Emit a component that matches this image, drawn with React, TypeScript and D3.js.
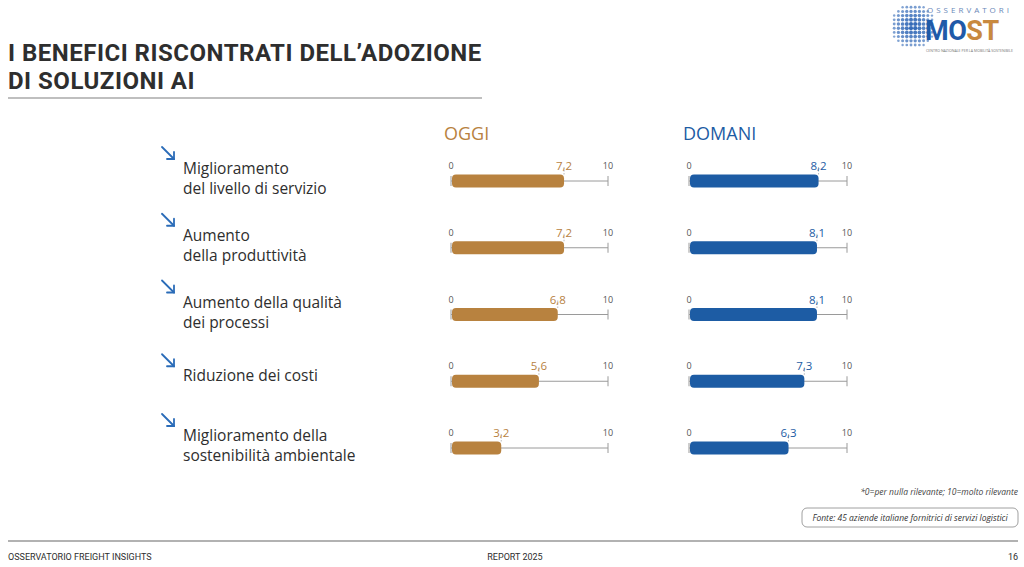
import React from "react";
import * as d3 from "d3";

const categories: string[][] = [
  ["Miglioramento", "del livello di servizio"],
  ["Aumento", "della produttività"],
  ["Aumento della qualità", "dei processi"],
  ["Riduzione dei costi"],
  ["Miglioramento della", "sostenibilità ambientale"],
];
const oggiValues = [7.2, 7.2, 6.8, 5.6, 3.2];
const domaniValues = [8.2, 8.1, 8.1, 7.3, 6.3];
const seriesNames = ["OGGI", "DOMANI"];
const axisTicks = [0, 10];

const W = 1024;
const H = 567;
const BROWN = "#b8823f";
const BLUE = "#1d5ca4";
const TEXT = "#2e2e2e";
const FONT = "'Open Sans', 'Noto Sans', sans-serif";

const fmt = (v: number) => v.toFixed(1).replace(".", ",");

function Logo() {
  const cx = 913, cy = 26, R = 23;
  const dots: { x: number; y: number; r: number; o: number }[] = [];
  for (let gy = -R; gy <= R; gy += 4.2) {
    for (let gx = -R; gx <= R; gx += 4.2) {
      const d = Math.sqrt(gx * gx + gy * gy);
      if (d <= R) {
        const k = 1 - d / R;
        dots.push({ x: cx + gx, y: cy + gy, r: 0.9 + 1.3 * Math.sqrt(k), o: 0.55 + 0.45 * k });
      }
    }
  }
  return (
    <g>
      {dots.map((d, i) => (
        <circle key={i} cx={d.x} cy={d.y} r={d.r} fill="#2a63b4" opacity={d.o} />
      ))}
      <text x={927} y={13} fontSize={8} fill="#6a88b8" letterSpacing={3} fontFamily={FONT}>
        OSSERVATORI
      </text>
      <text x={925} y={40} fontSize={27} fontWeight={700} fontFamily="'Roboto', sans-serif" letterSpacing={-0.5}>
        <tspan fill="#1f5aa8">MO</tspan>
        <tspan fill="#c8893f">ST</tspan>
      </text>
      <text x={926} y={52} fontSize={3.6} fill="#777" fontFamily={FONT}>
        CENTRO NAZIONALE PER LA MOBILITÀ SOSTENIBILE
      </text>
    </g>
  );
}

function BarRow({
  value,
  y,
  x,
  color,
}: {
  value: number;
  y: number;
  x: d3.ScaleLinear<number, number>;
  color: string;
}) {
  const [x0, x1] = x.range();
  const bh = 13;
  return (
    <g>
      <line x1={x0} x2={x1} y1={y} y2={y} stroke="#9a9a9a" strokeWidth={1} />
      <line x1={x0} x2={x0} y1={y - 5} y2={y + 5} stroke="#9a9a9a" strokeWidth={1} />
      <line x1={x1} x2={x1} y1={y - 5} y2={y + 5} stroke="#9a9a9a" strokeWidth={1} />
      <rect x={x(0) + 1} y={y - bh / 2} width={x(value) - x(0) - 1} height={bh} rx={4} fill={color} />
      <line
        x1={x(value)}
        x2={x(value)}
        y1={y - 14}
        y2={y - bh / 2}
        stroke="#aaa"
        strokeWidth={0.8}
        strokeDasharray="1.5,1.5"
      />
      {axisTicks.map((t) => (
        <text key={t} x={x(t)} y={y - 12} fontSize={9} fill="#555" textAnchor="middle" fontFamily={FONT}>
          {t}
        </text>
      ))}
      <text x={x(value)} y={y - 11} fontSize={11.5} fill={color} textAnchor="middle" fontFamily={FONT}>
        {fmt(value)}
      </text>
    </g>
  );
}

export default function App() {
  const yRow = d3.scalePoint<number>().domain(d3.range(categories.length)).range([181, 448]);
  const xOggi = d3.scaleLinear().domain([0, 10]).range([451, 608]);
  const xDomani = d3.scaleLinear().domain([0, 10]).range([689, 847]);

  return (
    <svg width={W} height={H} style={{ position: "absolute", left: 0, top: 0, background: "#fff" }}>
      <rect width={W} height={H} fill="#fff" />
      <Logo />
      <text x={8} y={61} fontSize={24} fontWeight={700} fill={TEXT} letterSpacing={0.5} fontFamily="'Roboto', sans-serif">
        I BENEFICI RISCONTRATI DELL’ADOZIONE
      </text>
      <text x={8} y={89} fontSize={24} fontWeight={700} fill={TEXT} letterSpacing={0.5} fontFamily="'Roboto', sans-serif">
        DI SOLUZIONI AI
      </text>
      <line x1={8} x2={482} y1={98} y2={98} stroke="#aaa" strokeWidth={1.5} />

      <text x={444} y={140} fontSize={18} fill={BROWN} fontFamily={FONT}>
        {seriesNames[0]}
      </text>
      <text x={683} y={140} fontSize={18} fill={BLUE} fontFamily={FONT}>
        {seriesNames[1]}
      </text>

      {categories.map((lines, i) => {
        const y = yRow(i) as number;
        const base = lines.length > 1 ? y - 7 : y;
        const ay = base - 27;
        return (
          <g key={i}>
            <g stroke="#2b6cb8" strokeWidth={1.8} fill="none" strokeLinecap="round">
              <line x1={162} y1={ay} x2={174} y2={ay + 12} />
              <polyline points={`${167},${ay + 12} ${174},${ay + 12} ${174},${ay + 5}`} />
            </g>
            {lines.map((l, j) => (
              <text key={j} x={183} y={base + j * 20} fontSize={15.5} fill={TEXT} fontFamily={FONT}>
                {l}
              </text>
            ))}
            <BarRow value={oggiValues[i]} y={y} x={xOggi} color={BROWN} />
            <BarRow value={domaniValues[i]} y={y} x={xDomani} color={BLUE} />
          </g>
        );
      })}

      <text x={1018} y={495} fontSize={8.5} fontStyle="italic" fill="#444" textAnchor="end" fontFamily={FONT}>
        *0=per nulla rilevante; 10=molto rilevante
      </text>
      <rect x={802} y={508} width={216} height={19} rx={5} fill="none" stroke="#888" strokeWidth={0.8} />
      <text x={910} y={521} fontSize={8.5} fontStyle="italic" fill="#333" textAnchor="middle" fontFamily={FONT}>
        Fonte: 45 aziende italiane fornitrici di servizi logistici
      </text>

      <line x1={8} x2={1018} y1={541} y2={541} stroke="#999" strokeWidth={1.5} />
      <text x={8} y={560} fontSize={9} fill={TEXT} fontFamily="'Roboto', sans-serif">
        OSSERVATORIO FREIGHT INSIGHTS
      </text>
      <text x={515} y={560} fontSize={9} fill={TEXT} textAnchor="middle" fontFamily="'Roboto', sans-serif">
        REPORT 2025
      </text>
      <text x={1018} y={560} fontSize={9} fill={TEXT} textAnchor="end" fontFamily="'Roboto', sans-serif">
        16
      </text>
    </svg>
  );
}
